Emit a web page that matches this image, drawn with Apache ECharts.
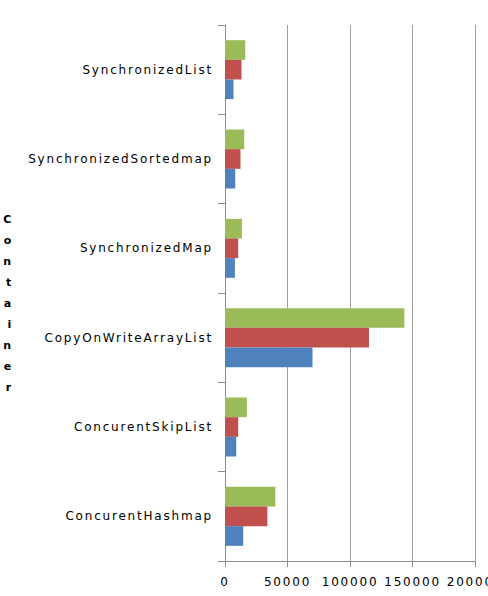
<!DOCTYPE html>
<html>
<head>
<meta charset="utf-8">
<script src="https://cdn.jsdelivr.net/npm/echarts@6/dist/echarts.min.js"></script>
<style>
  html, body { margin: 0; padding: 0; background: #fff; }
  #chart { width: 488px; height: 596px; }
  #chart text { letter-spacing: 1.8px; }
</style>
</head>
<body>
<div id="chart"></div>
<script>
// categories bottom to top
const categories = ['ConcurentHashmap', 'ConcurentSkipList', 'CopyOnWriteArrayList', 'SynchronizedMap', 'SynchronizedSortedmap', 'SynchronizedList'];
const blueValues = [14600, 9000, 70000, 7900, 8200, 6800];
const redValues = [33900, 10600, 115200, 10600, 12400, 13200];
const greenValues = [40300, 17500, 143500, 13500, 15400, 16200];
const xTicks = { min: 0, max: 200000, interval: 50000 };

let myChart = echarts.init(document.getElementById('chart'), null, { renderer: 'svg' });
let option = {
  animation: false,
  grid: {
    left: 225,
    right: 13,
    top: 25,
    bottom: 35,
    containLabel: false,
    outerBoundsMode: 'none'
  },
  xAxis: {
    type: 'value',
    min: xTicks.min,
    max: xTicks.max,
    interval: xTicks.interval,
    axisLine: { show: true, lineStyle: { color: '#8c8c8c' } },
    axisTick: { show: true, length: 6, lineStyle: { color: '#8c8c8c' } },
    axisLabel: {
      color: '#000',
      fontFamily: 'DejaVu Sans',
      fontSize: 12,
      margin: 15,
      showMaxLabel: true,
      hideOverlap: false,
      formatter: v => String(v)
    },
    splitLine: { show: true, lineStyle: { color: '#a0a0a0', width: 1 } }
  },
  yAxis: {
    type: 'category',
    data: categories,
    // vertical stacked title, leading blank line nudges it down like the original
    name: '\n' + 'Container'.split('').join('\n'),
    nameLocation: 'middle',
    nameRotate: 0,
    nameGap: 212,
    nameTextStyle: {
      fontFamily: 'DejaVu Sans',
      fontWeight: 'bold',
      fontSize: 11,
      lineHeight: 21,
      color: '#000'
    },
    axisLine: { show: true, lineStyle: { color: '#8c8c8c' } },
    axisTick: { show: true, length: 7, lineStyle: { color: '#8c8c8c' } },
    axisLabel: {
      color: '#000',
      fontFamily: 'DejaVu Sans',
      fontSize: 12,
      margin: 12
    },
    splitLine: { show: false }
  },
  // series order: top bar first in ECharts horizontal layout
  series: [
    { type: 'bar', data: greenValues, itemStyle: { color: '#9BBB59' }, barGap: '0%', barCategoryGap: '34%' },
    { type: 'bar', data: redValues, itemStyle: { color: '#C0504D' }, barGap: '0%', barCategoryGap: '34%' },
    { type: 'bar', data: blueValues, itemStyle: { color: '#4F81BD' }, barGap: '0%', barCategoryGap: '34%' }
  ]
};
option && myChart.setOption(option);
</script>
</body>
</html>
